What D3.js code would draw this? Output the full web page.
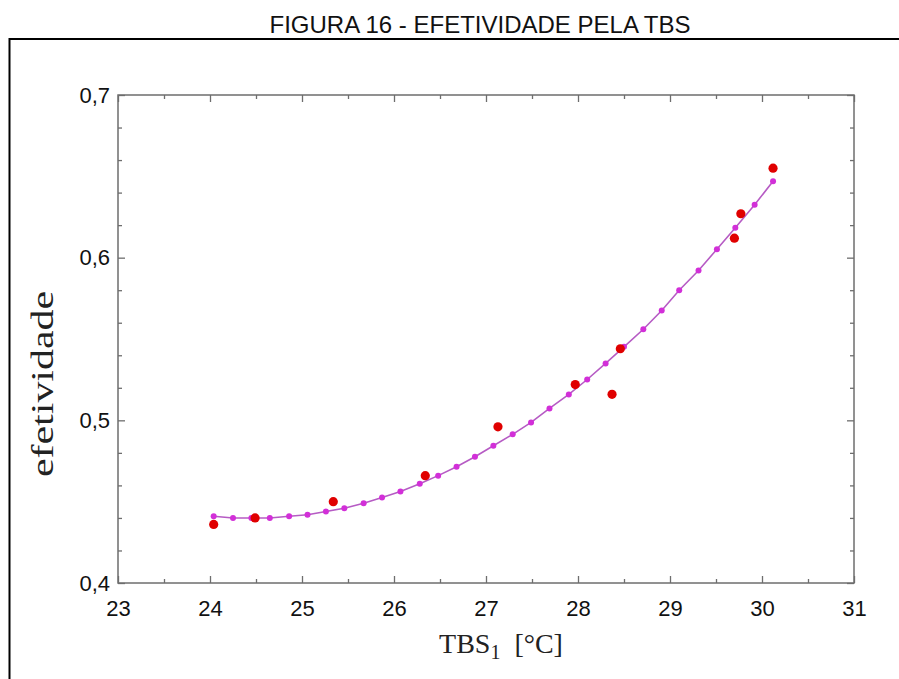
<!DOCTYPE html>
<html>
<head>
<meta charset="utf-8">
<script src="https://cdnjs.cloudflare.com/ajax/libs/d3/7.8.5/d3.min.js"></script>
<style>
  body { margin: 0; background: #fff; }
  svg { display: block; }
</style>
</head>
<body>
<div id="chart"></div>
<script>
// measured points (red)
var tbsMeas = [24.04, 24.49, 25.34, 26.34, 27.13, 27.97, 28.37, 28.46, 29.70, 29.77, 30.12];
var efMeas  = [0.436, 0.440, 0.450, 0.466, 0.496, 0.522, 0.516, 0.544, 0.612, 0.627, 0.655];

// fitted curve points (magenta)
var tbsFit = [24.04, 24.25, 24.45, 24.65, 24.86, 25.06, 25.26, 25.46, 25.67, 25.87, 26.07,
              26.28, 26.48, 26.68, 26.88, 27.08, 27.29, 27.49, 27.69, 27.90, 28.10, 28.30,
              28.50, 28.71, 28.91, 29.10, 29.31, 29.51, 29.71, 29.92, 30.12];
var efFit  = [0.441, 0.440, 0.440, 0.440, 0.441, 0.442, 0.444, 0.446, 0.449, 0.4526, 0.4563,
              0.461, 0.466, 0.4715, 0.4776, 0.4844, 0.4914, 0.4987, 0.5073, 0.5159, 0.5251, 0.535,
              0.5452, 0.556, 0.5675, 0.580, 0.5921, 0.6052, 0.6184, 0.6325, 0.647];

var xMajor = [23, 24, 25, 26, 27, 28, 29, 30, 31];
var xMinor = [23.5, 24.5, 25.5, 26.5, 27.5, 28.5, 29.5, 30.5];
var yMajor = [0.4, 0.5, 0.6, 0.7];
var yMinor = [0.42, 0.44, 0.46, 0.48, 0.52, 0.54, 0.56, 0.58, 0.62, 0.64, 0.66, 0.68];

(function () {
  var W = 899, H = 679;
  var svg = d3.select("#chart").append("svg").attr("width", W).attr("height", H);

  // title
  svg.append("text")
    .attr("x", 480).attr("y", 33)
    .attr("text-anchor", "middle")
    .style("font-family", "Liberation Sans, Arial, sans-serif")
    .style("font-size", "24px")
    .attr("fill", "#111")
    .text("FIGURA 16 - EFETIVIDADE PELA TBS");

  // outer frame (cut off at right and bottom)
  svg.append("path")
    .attr("d", "M9.5," + (H + 2) + "V39H" + (W + 2))
    .attr("fill", "none").attr("stroke", "#000").attr("stroke-width", 2);

  var pl = 118, pr = 854, pt = 95, pb = 583;
  var x = d3.scaleLinear().domain([23, 31]).range([pl, pr]);
  var y = d3.scaleLinear().domain([0.4, 0.7]).range([pb, pt]);

  var fmt = function (d) { return d3.format(".1f")(d).replace(".", ","); };
  var axisColor = "#6e6e6e";

  function styleAxis(g) {
    g.select(".domain").remove();
    g.selectAll(".tick line").attr("stroke", axisColor).attr("stroke-width", 1.3);
    g.selectAll(".tick text")
      .style("font-family", "Liberation Sans, Arial, sans-serif")
      .style("font-size", "22px")
      .attr("fill", "#111");
  }

  // bottom
  svg.append("g").attr("transform", "translate(0," + pb + ")")
    .call(d3.axisBottom(x).tickValues(xMajor).tickSize(-7).tickPadding(17).tickFormat(d3.format("d")))
    .call(styleAxis);
  svg.append("g").attr("transform", "translate(0," + pb + ")")
    .call(d3.axisBottom(x).tickValues(xMinor).tickSize(-4).tickFormat(""))
    .call(styleAxis);
  // top
  svg.append("g").attr("transform", "translate(0," + pt + ")")
    .call(d3.axisTop(x).tickValues(xMajor).tickSize(-7).tickFormat(""))
    .call(styleAxis);
  svg.append("g").attr("transform", "translate(0," + pt + ")")
    .call(d3.axisTop(x).tickValues(xMinor).tickSize(-4).tickFormat(""))
    .call(styleAxis);
  // left
  svg.append("g").attr("transform", "translate(" + pl + ",0)")
    .call(d3.axisLeft(y).tickValues(yMajor).tickSize(-7).tickPadding(8).tickFormat(fmt))
    .call(styleAxis);
  svg.append("g").attr("transform", "translate(" + pl + ",0)")
    .call(d3.axisLeft(y).tickValues(yMinor).tickSize(-4).tickFormat(""))
    .call(styleAxis);
  // right
  svg.append("g").attr("transform", "translate(" + pr + ",0)")
    .call(d3.axisRight(y).tickValues(yMajor).tickSize(-7).tickFormat(""))
    .call(styleAxis);
  svg.append("g").attr("transform", "translate(" + pr + ",0)")
    .call(d3.axisRight(y).tickValues(yMinor).tickSize(-4).tickFormat(""))
    .call(styleAxis);

  // plot frame
  svg.append("rect")
    .attr("x", pl).attr("y", pt)
    .attr("width", pr - pl).attr("height", pb - pt)
    .attr("fill", "none").attr("stroke", axisColor).attr("stroke-width", 1.5);

  // axis labels
  svg.append("text")
    .attr("x", 501).attr("y", 653)
    .attr("text-anchor", "middle")
    .style("font-family", "Liberation Serif, Times New Roman, serif")
    .style("font-size", "28px")
    .attr("fill", "#222")
    .call(function (t) {
      t.append("tspan").text("TBS");
      t.append("tspan").attr("dy", 6).style("font-size", "20px").text("1");
      t.append("tspan").attr("dy", -6).text("\u00a0\u00a0[°C]");
    });

  svg.append("text")
    .attr("transform", "translate(53,384) rotate(-90)")
    .attr("text-anchor", "middle")
    .attr("textLength", 186)
    .attr("lengthAdjust", "spacingAndGlyphs")
    .style("font-family", "Liberation Serif, Times New Roman, serif")
    .style("font-size", "31px")
    .attr("fill", "#222")
    .text("efetividade");

  // fitted line and points
  var fitData = tbsFit.map(function (d, i) { return [d, efFit[i]]; });
  svg.append("path")
    .datum(fitData)
    .attr("fill", "none")
    .attr("stroke", "#b65bc4")
    .attr("stroke-width", 1.6)
    .attr("d", d3.line().x(function (d) { return x(d[0]); }).y(function (d) { return y(d[1]); }));

  svg.append("g").selectAll("circle")
    .data(fitData).enter().append("circle")
    .attr("cx", function (d) { return x(d[0]); })
    .attr("cy", function (d) { return y(d[1]); })
    .attr("r", 3)
    .attr("fill", "#d22fd8");

  // measured points
  svg.append("g").selectAll("circle")
    .data(tbsMeas).enter().append("circle")
    .attr("cx", function (d) { return x(d); })
    .attr("cy", function (d, i) { return y(efMeas[i]); })
    .attr("r", 4.6)
    .attr("fill", "#e00000");
})();
</script>
</body>
</html>
